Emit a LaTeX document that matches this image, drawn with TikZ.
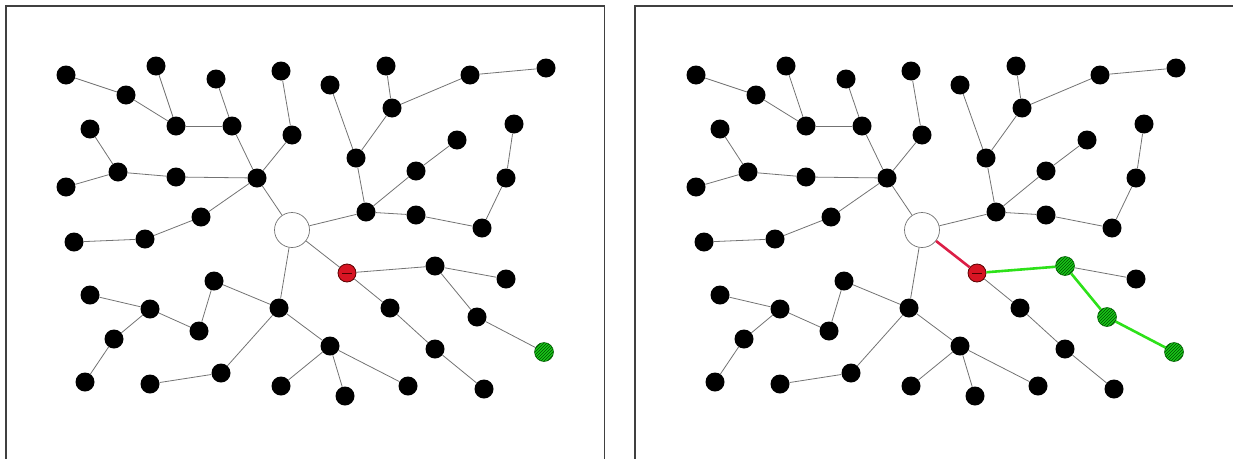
\documentclass[tikz,border=0pt]{standalone}
\usetikzlibrary{patterns}
\definecolor{gfill}{RGB}{25,200,25}
\definecolor{gline}{RGB}{45,225,25}
\definecolor{rline}{RGB}{220,30,70}
\definecolor{rfill}{RGB}{215,20,35}
\tikzset{
  dot/.style={circle,fill=black,inner sep=0pt,minimum size=19pt},
  hub/.style={circle,draw=black!55,line width=0.7pt,fill=white,inner sep=0pt,minimum size=35pt},
  rednode/.style={circle,fill=rfill,draw=red!35!black,line width=0.8pt,inner sep=0pt,minimum size=18pt,
    path picture={\draw[red!30!black,line width=0.9pt] ([xshift=4pt]path picture bounding box.west) -- ([xshift=-4pt]path picture bounding box.east);}},
  greennode/.style={circle,fill=gfill,draw=green!35!black,line width=0.5pt,inner sep=0pt,minimum size=19pt,
    postaction={pattern=north east lines,pattern color=green!30!black}},
  edge/.style={draw=black!55,line width=0.8pt},
  redpath/.style={draw=rline,line width=2.6pt},
  greenpath/.style={draw=gline,line width=2.6pt},
  frame/.style={draw=black!75,line width=1.3pt},
  pn32/.style={dot}, pn35/.style={dot},
  pe1/.style={edge}, pe2/.style={edge}, pe3/.style={edge}, pe4/.style={edge}
}
\newcommand\drawmytree{%
  \foreach \i/\x/\y in {1/66/75,2/126/95,3/156/66,4/176/126,5/216/79,6/232/126,7/281/71,8/292/135,
    9/257/178,10/90/129,11/118/172,12/176/177,13/66/187,14/201/217,15/145/239,16/74/242,
    18/330/85,19/386/66,20/392/108,21/470/75,22/546/68,23/356/158,24/457/140,25/416/171,
    26/514/124,27/506/178,28/366/212,29/416/215,30/482/228,33/506/279,34/390/308,
    37/435/349,38/484/389,39/90/295,40/150/309,41/214/281,42/199/331,43/114/339,44/85/382,
    45/150/384,46/221/373,47/279/308,48/330/346,49/281/386,50/345/396,51/408/386}
    {\node[dot] (n\i) at (\x,\y) {};}
  \node[hub] (n17) at (292,230) {};
  \node[rednode] (n31) at (347,273) {};
  \node[pn32] (n32) at (435,266) {};
  \node[pn35] (n35) at (477,317) {};
  \node[greennode] (n36) at (544,352) {};
  \foreach \a/\b in {1/2,2/4,3/4,4/6,5/6,6/9,7/8,8/9,10/11,13/11,11/12,12/9,9/14,14/15,15/16,
    9/17,17/28,28/23,23/18,23/20,20/19,20/21,21/22,28/25,25/24,28/29,29/30,30/27,27/26,
    32/33,31/34,34/37,37/38,17/47,47/41,41/42,42/40,40/39,40/43,43/44,47/46,46/45,47/48,
    48/49,48/50,48/51}
    {\draw[edge] (n\a) -- (n\b);}
  \draw[pe1] (n17) -- (n31);
  \draw[pe2] (n31) -- (n32);
  \draw[pe3] (n32) -- (n35);
  \draw[pe4] (n35) -- (n36);
}
\begin{document}
\begin{tikzpicture}[x=1pt,y=-1pt]
\useasboundingbox (0,0) rectangle (1233,458);
\draw[frame] (6,470) -- (6,6) -- (604.5,6) -- (604.5,470);
\draw[frame] (635,470) -- (635,6) -- (1240,6);
\begin{scope}[name prefix=L-]
  \drawmytree
\end{scope}
\begin{scope}[xshift=630pt,name prefix=R-,
  pn32/.style={greennode}, pn35/.style={greennode},
  pe1/.style={redpath}, pe2/.style={greenpath}, pe3/.style={greenpath}, pe4/.style={greenpath}]
  \drawmytree
\end{scope}
\end{tikzpicture}
\end{document}
